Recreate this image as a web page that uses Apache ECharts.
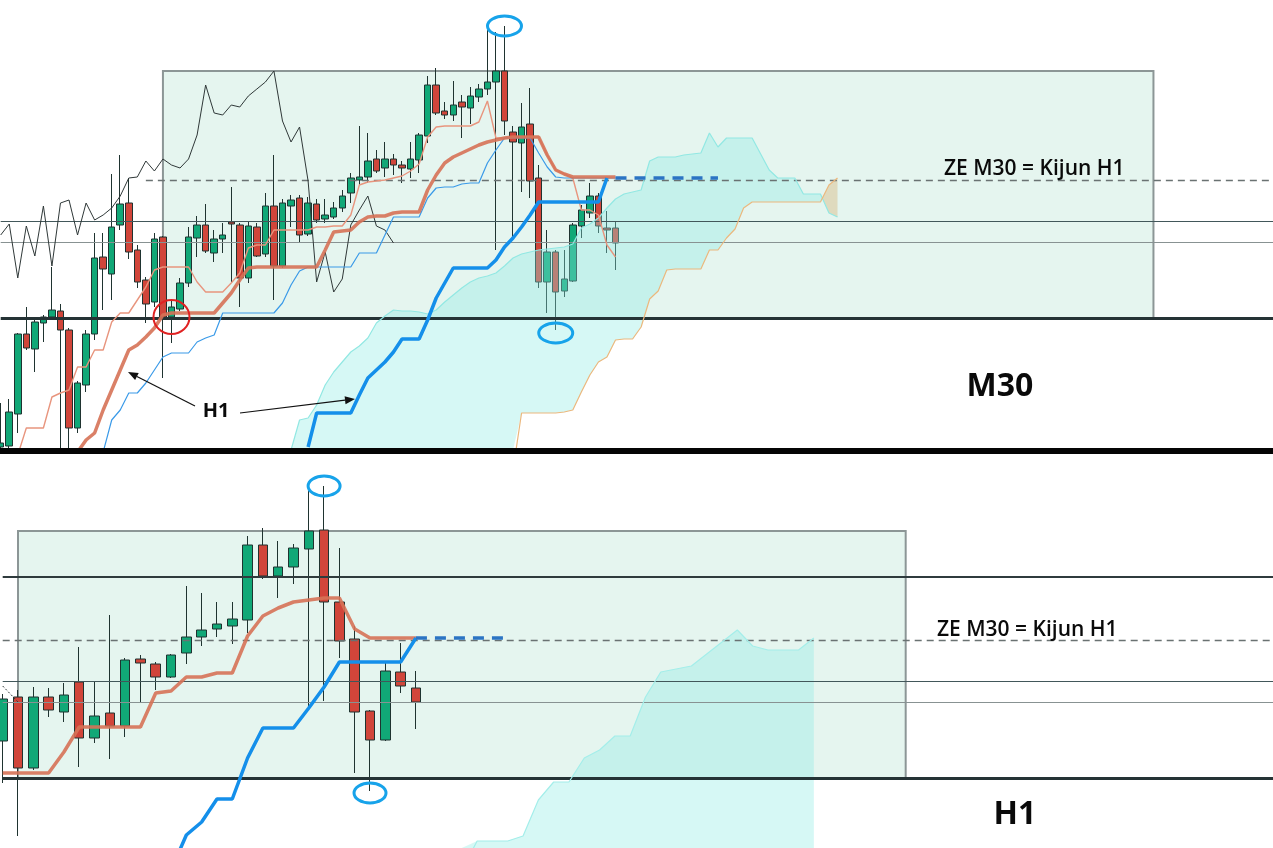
<!DOCTYPE html>
<html>
<head>
<meta charset="utf-8">
<title>ZE M30 = Kijun H1</title>
<script src="https://cdn.jsdelivr.net/npm/echarts@6/dist/echarts.min.js"></script>
<style>
  html, body { margin: 0; padding: 0; background: #fff; }
  #chart { width: 1273px; height: 848px; }
</style>
</head>
<body>
<div id="chart"></div>
<script>
// ---- M30 panel ----
// candles: [open, close, low, high]
const m30Candles = [
  [1.0753, 1.0757, 1.0752, 1.0797], [1.0754, 1.0788, 1.0752, 1.0801], [1.0786, 1.0866, 1.0767, 1.0867],
  [1.0866, 1.0852, 1.0850, 1.0893], [1.0851, 1.0878, 1.0828, 1.0880], [1.0877, 1.0883, 1.0858, 1.0885],
  [1.0883, 1.0890, 1.0882, 1.0933], [1.0889, 1.0870, 1.0752, 1.0896], [1.0870, 1.0772, 1.0752, 1.0872],
  [1.0772, 1.0817, 1.0767, 1.0819], [1.0815, 1.0866, 1.0808, 1.0870], [1.0866, 1.0942, 1.0860, 1.0967],
  [1.0943, 1.0931, 1.0890, 1.0967], [1.0926, 1.0973, 1.0900, 1.1026], [1.0975, 1.0996, 1.0970, 1.1045],
  [1.0997, 1.0948, 1.0941, 1.1022], [1.0950, 1.0918, 1.0912, 1.0955], [1.0920, 1.0896, 1.0877, 1.0923],
  [1.0898, 1.0961, 1.0893, 1.0967], [1.0963, 1.0883, 1.0822, 1.0964], [1.0883, 1.0893, 1.0857, 1.0900],
  [1.0891, 1.0917, 1.0889, 1.0922], [1.0917, 1.0963, 1.0913, 1.0973], [1.0962, 1.0975, 1.0943, 1.0984],
  [1.0975, 1.0949, 1.0947, 1.0996], [1.0947, 1.0961, 1.0938, 1.0970], [1.0961, 1.0965, 1.0947, 1.0977],
  [1.0978, 1.0976, 1.0918, 1.1013], [1.0975, 1.0922, 1.0893, 1.0977], [1.0922, 1.0974, 1.0917, 1.0978],
  [1.0973, 1.0944, 1.0943, 1.0977], [1.0946, 1.0994, 1.0943, 1.1007], [1.0994, 1.0934, 1.0900, 1.1045],
  [1.0934, 1.0997, 1.0932, 1.1001], [1.0994, 1.1000, 1.0973, 1.1005], [1.1002, 1.0965, 1.0957, 1.1005],
  [1.0966, 1.0997, 1.0964, 1.1003], [1.0996, 1.0980, 1.0977, 1.1001], [1.0981, 1.0985, 1.0977, 1.1001],
  [1.0983, 1.0992, 1.0981, 1.0998], [1.0992, 1.1004, 1.0988, 1.1010], [1.1007, 1.1022, 1.0997, 1.1027],
  [1.1020, 1.1023, 1.1015, 1.1074], [1.1023, 1.1039, 1.1017, 1.1067], [1.1041, 1.1029, 1.1027, 1.1050],
  [1.1032, 1.1041, 1.1023, 1.1058], [1.1041, 1.1035, 1.1025, 1.1046], [1.1035, 1.1032, 1.1017, 1.1039],
  [1.1031, 1.1041, 1.1022, 1.1058], [1.1040, 1.1065, 1.1027, 1.1067], [1.1064, 1.1115, 1.1057, 1.1124],
  [1.1115, 1.1087, 1.1085, 1.1132], [1.1089, 1.1085, 1.1081, 1.1098], [1.1085, 1.1095, 1.1079, 1.1119],
  [1.1098, 1.1093, 1.1062, 1.1105], [1.1092, 1.1104, 1.1076, 1.1113], [1.1103, 1.1111, 1.1098, 1.1116],
  [1.1111, 1.1118, 1.1105, 1.1170], [1.1118, 1.1129, 1.0950, 1.1168], [1.1129, 1.1079, 1.1065, 1.1174],
  [1.1068, 1.1058, 1.0960, 1.1074], [1.1057, 1.1073, 1.1008, 1.1097], [1.1076, 1.1019, 1.1002, 1.1112],
  [1.1022, 1.0918, 1.0912, 1.1035], [1.0918, 1.0948, 1.0887, 1.0970], [1.0948, 1.0908, 1.0870, 1.0950],
  [1.0909, 1.0921, 1.0903, 1.0950], [1.0919, 1.0975, 1.0918, 1.0977], [1.0974, 1.0990, 1.0962, 1.0995],
  [1.0987, 1.1004, 1.0982, 1.1017], [1.1004, 1.0974, 1.0967, 1.1007], [1.0972, 1.0970, 1.0947, 1.0989],
  [1.0972, 1.0957, 1.0930, 1.0978]
];

// thin salmon (tenkan M30), from index 2
const m30TenkanStart = 2;
const m30Tenkan = [
  1.0745, 1.0772, 1.0772, 1.0772, 1.0803, 1.0807, 1.0810, 1.0833, 1.0833, 1.0850,
  1.0850, 1.0878, 1.0887, 1.0887, 1.0900, 1.0913, 1.0930, 1.0933, 1.0933, 1.0933,
  1.0933, 1.0918, 1.0908, 1.0908, 1.0908, 1.0917, 1.0927, 1.0952, 1.0955, 1.0955,
  1.0970, 1.0970, 1.0970, 1.0970, 1.0970, 1.0973, 1.0973, 1.0974, 1.0974, 1.0985,
  1.1015, 1.1018, 1.1019, 1.1020, 1.1022, 1.1024, 1.1029, 1.1036, 1.1063, 1.1073,
  1.1074, 1.1074, 1.1074, 1.1074, 1.1078, 1.1099, 1.1062, 1.1062, 1.1063, 1.1063,
  1.1063, 1.1063, 1.1045, 1.1030, 1.1026, 1.1022, 1.0990, 1.0990, 1.0985, 1.0955,
  1.0943
];

// thin blue (kijun M30), from index 12
const m30KijunStart = 12;
const m30Kijun = [
  1.0748, 1.0780, 1.0790, 1.0807, 1.0807, 1.0817, 1.0830, 1.0843, 1.0847, 1.0847,
  1.0847, 1.0858, 1.0862, 1.0865, 1.0887, 1.0887, 1.0887, 1.0887, 1.0887, 1.0887,
  1.0887, 1.0897, 1.0915, 1.0929, 1.0933, 1.0933, 1.0933, 1.0933, 1.0933, 1.0933,
  1.0947, 1.0947, 1.0947, 1.0965, 1.0983, 1.0983, 1.0983, 1.0983, 1.1002, 1.1012,
  1.1013, 1.1013, 1.1016, 1.1017, 1.1017, 1.1037, 1.1050, 1.1062, 1.1062, 1.1062,
  1.1062, 1.1047, 1.1033, 1.1023, 1.1022, 1.1022, 1.1022, 1.1022, 1.1022, 1.1022,
  1.1022
];

// thick salmon (kijun H1 drawn on M30), from index 9
const m30H1KijunStart = 9;
const m30H1Kijun = [
  1.0748, 1.0760, 1.0767, 1.0790, 1.0810, 1.0830, 1.0850, 1.0855, 1.0863, 1.0872,
  1.0885, 1.0887, 1.0887, 1.0887, 1.0887, 1.0887, 1.0887, 1.0897, 1.0907, 1.0920,
  1.0932, 1.0933, 1.0933, 1.0933, 1.0933, 1.0933, 1.0933, 1.0933, 1.0933, 1.0950,
  1.0968, 1.0969, 1.0970, 1.0978, 1.0983, 1.0984, 1.0984, 1.0987, 1.0988, 1.0988,
  1.0988, 1.1010, 1.1025, 1.1037, 1.1043, 1.1047, 1.1051, 1.1055, 1.1058, 1.1060,
  1.1062, 1.1063, 1.1063, 1.1063, 1.1063, 1.1045, 1.1030, 1.1026, 1.1023, 1.1023,
  1.1023, 1.1023, 1.1023, 1.1023
];

// thick blue (H1 line drawn on M30), from index 36
const m30H1BlueStart = 36;
const m30H1Blue = [
  1.0753, 1.0787, 1.0787, 1.0787, 1.0787, 1.0787, 1.0805, 1.0822, 1.0830, 1.0838,
  1.0848, 1.0861, 1.0861, 1.0861, 1.0880, 1.0902, 1.0917, 1.0932, 1.0932, 1.0932,
  1.0932, 1.0932, 1.0940, 1.0953, 1.0962, 1.0973, 1.0985, 1.0998, 1.0998, 1.0998,
  1.0998, 1.0998, 1.0998, 1.0998, 1.0998, 1.1022
];

// cloud edges (M30)
const m30SpanAStart = 34;
const m30SpanA = [
  1.0750, 1.0780, 1.0782, 1.0795, 1.0815, 1.0828, 1.0838, 1.0848, 1.0854, 1.0862,
  1.0877, 1.0884, 1.0890, 1.0889, 1.0889, 1.0888, 1.0886, 1.0890, 1.0898, 1.0905,
  1.0912, 1.0918, 1.0922, 1.0924, 1.0927, 1.0934, 1.0942, 1.0946, 1.0948, 1.0950,
  1.0951, 1.0952, 1.0953, 1.0956, 1.0972, 1.0976, 1.0982, 1.0992, 1.1001, 1.1006,
  1.1008, 1.1010, 1.1039, 1.1043, 1.1043, 1.1043, 1.1045, 1.1046, 1.1047, 1.1067,
  1.1053, 1.1062, 1.1062, 1.1062, 1.1062, 1.1046, 1.1030, 1.1022, 1.1022, 1.1022,
  1.1006, 1.1006, 1.1006, 1.0987, 1.0983
];
const m30SpanBStart = 60;
const m30SpanB = [
  1.0730, 1.0787, 1.0787, 1.0787, 1.0787, 1.0787, 1.0788, 1.0790, 1.0808, 1.0825,
  1.0838, 1.0843, 1.0860, 1.0861, 1.0861, 1.0873, 1.0901, 1.0909, 1.0930, 1.0931,
  1.0931, 1.0931, 1.0931, 1.0950, 1.0950, 1.0962, 1.0971, 1.0992, 1.0998, 1.0998,
  1.0998, 1.0998, 1.0998, 1.0998, 1.0998, 1.0998, 1.0998, 1.1015, 1.1022
];

// ---- H1 panel ----
const h1Candles = [
  [1.0919, 1.0961, 1.0877, 1.0966], [1.0963, 1.0892, 1.0824, 1.0970], [1.0892, 1.0963, 1.0890, 1.0973],
  [1.0963, 1.0950, 1.0943, 1.0972], [1.0948, 1.0965, 1.0938, 1.0977], [1.0978, 1.0922, 1.0893, 1.1013],
  [1.0922, 1.0944, 1.0917, 1.0978], [1.0947, 1.0934, 1.0901, 1.1045], [1.0934, 1.1000, 1.0923, 1.1002],
  [1.1001, 1.0997, 1.0957, 1.1005], [1.0996, 1.0983, 1.0970, 1.0998], [1.0983, 1.1005, 1.0982, 1.1006],
  [1.1007, 1.1023, 1.0996, 1.1074], [1.1023, 1.1030, 1.1014, 1.1067], [1.1031, 1.1036, 1.1023, 1.1058],
  [1.1034, 1.1041, 1.1016, 1.1058], [1.1040, 1.1115, 1.1027, 1.1124], [1.1115, 1.1084, 1.1081, 1.1132],
  [1.1084, 1.1093, 1.1062, 1.1119], [1.1093, 1.1112, 1.1076, 1.1116], [1.1111, 1.1129, 1.0953, 1.1170],
  [1.1130, 1.1058, 1.0959, 1.1174], [1.1058, 1.1019, 1.1002, 1.1112], [1.1021, 1.0948, 1.0887, 1.1034],
  [1.0949, 1.0920, 1.0869, 1.0950], [1.0920, 1.0989, 1.0919, 1.0997], [1.0988, 1.0974, 1.0967, 1.1017],
  [1.0972, 1.0958, 1.0931, 1.0989]
];
const h1KijunStart = 0;
const h1Kijun = [
  1.0887, 1.0887, 1.0887, 1.0887, 1.0908, 1.0933, 1.0933, 1.0933, 1.0933, 1.0933,
  1.0967, 1.0969, 1.0983, 1.0983, 1.0987, 1.0987, 1.1024, 1.1044, 1.1052, 1.1058,
  1.1060, 1.1062, 1.1062, 1.1031, 1.1022, 1.1022, 1.1022, 1.1022
];
const h1BlueStart = 11;
const h1Blue = [
  1.0790, 1.0825, 1.0838, 1.0861, 1.0861, 1.0902, 1.0932, 1.0932, 1.0932, 1.0952,
  1.0973, 1.0998, 1.0998, 1.0998, 1.0998, 1.0998, 1.1022
];
const h1SpanAStart = 30;
const h1SpanA = [
  1.0790, 1.0819, 1.0819, 1.0819, 1.0824, 1.0860, 1.0878, 1.0878, 1.0902, 1.0910,
  1.0924, 1.0924, 1.0963, 1.0988, 1.0991, 1.0994, 1.1006, 1.1018, 1.1030, 1.1014,
  1.1010, 1.1010, 1.1010, 1.1022
];
const h1SpanBStart = 30;
const h1SpanB = []; // below the visible range

// ---- levels ----
const zeLevel = 1.1020;        // grey dashed line
const kijunFlat = 1.1022;      // blue dashed projection
const levelDark = 1.0979;
const levelGrey = 1.0958;
const supportLevel = 1.0882;
const h1TopLevel = 1.1083;
const boxTop = 1.1129;
const m30Box = [19, 135];
const h1Box = [1, 59];
const m30Proj = [72, 84];
const h1Proj = [27, 33];
const m30ZeFrom = 17;
const chikouShift = 26;

// axis ranges
const m30Range = [1.0750, 1.1200];
const h1Range = [1.0812, 1.1205];
const m30Count = 150;
const h1Count = 84;

const chart = echarts.init(document.getElementById('chart'));

function cats(n) {
  const out = [];
  for (let i = 0; i < n; i++) out.push(String(i));
  return out;
}
function padFrom(start, values) {
  const out = [];
  for (let i = 0; i < start; i++) out.push(null);
  return out.concat(values);
}
function flat(range, value) {
  const out = [];
  for (let i = 0; i <= range[1]; i++) out.push(i >= range[0] ? value : null);
  return out;
}

function line(grid, data, color, width, z, type) {
  return {
    type: 'line', xAxisIndex: grid, yAxisIndex: grid, data: data,
    symbol: 'none', showSymbol: false, silent: true, z: z,
    lineStyle: { color: color, width: width, type: type || 'solid' }
  };
}

function candles(grid, data, width) {
  return {
    type: 'candlestick', xAxisIndex: grid, yAxisIndex: grid, data: data,
    barWidth: width, silent: true, z: 3,
    itemStyle: {
      color: '#11a877', color0: '#d1453a',
      borderColor: '#1f3330', borderColor0: '#1f3330', borderWidth: 1
    }
  };
}

// kumo polygon, split where the two spans cross
function cloud(grid, aStart, spanA, bStart, spanB, floor) {
  return {
    type: 'custom', xAxisIndex: grid, yAxisIndex: grid, z: 4, silent: true, clip: true,
    data: [[aStart, floor]],
    renderItem: function (params, api) {
      const pa = [], pb = [];
      for (let k = 0; k < spanA.length; k++) {
        const i = aStart + k;
        const bi = i - bStart;
        const b = (bi >= 0 && bi < spanB.length) ? spanB[bi] : floor;
        pa.push(api.coord([i, Math.max(spanA[k], floor)]));
        pb.push(api.coord([i, Math.max(b, floor)]));
      }
      const runs = [];
      let cur = { up: pa[0][1] <= pb[0][1], a: [pa[0]], b: [pb[0]] };
      for (let k = 1; k < pa.length; k++) {
        const up = pa[k][1] <= pb[k][1];
        if (up !== cur.up) {
          const d0 = pb[k - 1][1] - pa[k - 1][1], d1 = pb[k][1] - pa[k][1];
          const t = d0 / (d0 - d1);
          const p = [pa[k - 1][0] + t * (pa[k][0] - pa[k - 1][0]),
                     pa[k - 1][1] + t * (pa[k][1] - pa[k - 1][1])];
          cur.a.push(p); cur.b.push(p);
          runs.push(cur);
          cur = { up: up, a: [p], b: [p] };
        }
        cur.a.push(pa[k]); cur.b.push(pb[k]);
      }
      runs.push(cur);
      return {
        type: 'group',
        children: runs.map(function (r) {
          return {
            type: 'polygon',
            shape: { points: r.a.concat(r.b.slice().reverse()) },
            style: { fill: r.up ? 'rgba(140,236,228,0.36)' : 'rgba(218,191,141,0.5)' }
          };
        })
      };
    }
  };
}

function boxSeries(grid, box) {
  return {
    type: 'line', xAxisIndex: grid, yAxisIndex: grid, data: [], z: 1, silent: true,
    markArea: {
      silent: true,
      itemStyle: { color: '#e5f5ef', borderColor: '#8c9696', borderWidth: 2 },
      data: [[{ coord: [box[0], boxTop] }, { coord: [box[1], supportLevel] }]]
    }
  };
}

// horizontal level from one category index to another
function hl(from, to, value, color, width, type) {
  return [
    { coord: [from, value], lineStyle: { color: color, width: width, type: type || 'solid' } },
    { coord: [to, value] }
  ];
}

function levelSeries(grid, items) {
  return {
    type: 'line', xAxisIndex: grid, yAxisIndex: grid, data: [], z: 2, silent: true,
    markLine: { silent: true, symbol: ['none', 'none'], precision: 6, label: { show: false }, data: items }
  };
}

// chikou = closes shifted back
const m30Chikou = m30Candles.slice(chikouShift).map(function (c) { return c[1]; });
const h1Chikou = h1Candles.slice(chikouShift).map(function (c) { return c[1]; });
const dashGrey = [7, 5];
const dashProj = [11, 8];
const m30End = m30Count - 1;
const h1End = h1Count - 1;

const option = {
  animation: false,
  grid: [
    { left: 0.7, right: 0, top: 0, height: 450 },
    { left: 2.7, right: 0, top: 455, height: 393 }
  ],
  xAxis: [
    { type: 'category', gridIndex: 0, data: cats(m30Count), boundaryGap: false, show: false },
    { type: 'category', gridIndex: 1, data: cats(h1Count), boundaryGap: false, show: false }
  ],
  yAxis: [
    { type: 'value', gridIndex: 0, min: m30Range[0], max: m30Range[1], show: false, splitLine: { show: false } },
    { type: 'value', gridIndex: 1, min: h1Range[0], max: h1Range[1], show: false, splitLine: { show: false } }
  ],
  series: [
    // M30
    boxSeries(0, m30Box),
    levelSeries(0, [
      hl(0, m30End, levelDark, '#42575a', 1.2),
      hl(0, m30End, levelGrey, '#889292', 1.2),
      hl(0, m30End, supportLevel, '#253335', 3),
      hl(m30ZeFrom, m30End, zeLevel, '#6a7272', 1.3, dashGrey)
    ]),
    candles(0, m30Candles, 7),
    cloud(0, m30SpanAStart, m30SpanA, m30SpanBStart, m30SpanB, m30Range[0]),
    line(0, padFrom(m30SpanAStart, m30SpanA), '#92e8e3', 1.2, 5),
    line(0, padFrom(m30SpanBStart, m30SpanB), '#ebb87e', 1.2, 5),
    line(0, m30Chikou, '#2f3838', 1, 5),
    line(0, padFrom(m30TenkanStart, m30Tenkan), '#e8957e', 1.4, 6),
    line(0, padFrom(m30KijunStart, m30Kijun), '#3a9ae8', 1.2, 6),
    line(0, padFrom(m30H1KijunStart, m30H1Kijun), 'rgba(214,114,86,0.9)', 3.5, 7),
    line(0, padFrom(m30H1BlueStart, m30H1Blue), '#148fea', 3.5, 7),
    line(0, flat(m30Proj, kijunFlat), '#2b74c4', 3.5, 7, dashProj),
    // H1
    boxSeries(1, h1Box),
    levelSeries(1, [
      hl(0, h1End, h1TopLevel, '#2f3b3d', 2),
      hl(0, h1End, levelDark, '#42575a', 1.2),
      hl(0, h1End, levelGrey, '#889292', 1.2),
      hl(0, h1End, supportLevel, '#253335', 3),
      hl(0, h1End, zeLevel, '#6a7272', 1.3, dashGrey)
    ]),
    candles(1, h1Candles, 10),
    cloud(1, h1SpanAStart, h1SpanA, h1SpanBStart, h1SpanB, h1Range[0]),
    line(1, padFrom(h1SpanAStart, h1SpanA), '#a4eeea', 1.2, 5),
    line(1, h1Chikou, '#2f3838', 1, 5, [2, 2]),
    line(1, padFrom(h1KijunStart, h1Kijun), 'rgba(214,114,86,0.9)', 3.5, 7),
    line(1, padFrom(h1BlueStart, h1Blue), '#148fea', 3.5, 7),
    line(1, flat(h1Proj, kijunFlat), '#2b74c4', 3.5, 7, dashProj)
  ]
};
chart.setOption(option);

// ---- annotations, placed from the data ----
function px(grid, i, v) { return chart.convertToPixel({ gridIndex: grid }, [i, v]); }
function ellipse(p, dy, rx, ry, color, w) {
  return { type: 'ellipse', z: 100, silent: true,
    shape: { cx: p[0], cy: p[1] + dy, rx: rx, ry: ry },
    style: { fill: 'none', stroke: color, lineWidth: w } };
}
function arrow(x1, y1, x2, y2) {
  const a = Math.atan2(y2 - y1, x2 - x1), L = 10, W = 4;
  const bx = x2 - L * Math.cos(a), by = y2 - L * Math.sin(a);
  const ox = -Math.sin(a) * W, oy = Math.cos(a) * W;
  return [
    { type: 'line', z: 100, silent: true, shape: { x1: x1, y1: y1, x2: bx, y2: by }, style: { stroke: '#111', lineWidth: 1.2 } },
    { type: 'polygon', z: 100, silent: true, shape: { points: [[x2, y2], [bx + ox, by + oy], [bx - ox, by - oy]] }, style: { fill: '#111' } }
  ];
}
function label(x, y, text, size, weight, align) {
  return { type: 'text', z: 100, silent: true, x: x, y: y,
    style: { text: text, fontSize: size, fontWeight: weight, fontFamily: '"Open Sans", "Noto Sans", sans-serif',
      fill: '#0a0a0a', align: align || 'left', verticalAlign: 'middle' } };
}

const blue = '#17a3ea';
const zeTop = px(0, 0, zeLevel)[1];
const zeBottom = px(1, 0, zeLevel)[1];
const sepY = px(0, 0, m30Range[0])[1];

const graphics = [
  { type: 'rect', z: 90, silent: true, shape: { x: 0, y: sepY - 2, width: 1273, height: 6 }, style: { fill: '#050505' } },
  ellipse(px(0, 59, m30Candles[59][3]), 0, 17, 10, blue, 3),
  ellipse(px(0, 65, m30Candles[65][2]), 3, 17, 10, blue, 3),
  ellipse(px(1, 21, h1Candles[21][3]), 0, 16, 10, blue, 3),
  ellipse(px(1, 24, h1Candles[24][2]), 2, 16, 10, blue, 3),
  ellipse(px(0, 20, supportLevel), -1, 18, 17, '#e02222', 2),
  label(944, zeTop - 11, 'ZE M30 = Kijun H1', 21, 600),
  label(937, zeBottom - 10, 'ZE M30 = Kijun H1', 21, 600),
  label(1000, 387, 'M30', 32, 'bold', 'center'),
  label(1015, 815, 'H1', 32, 'bold', 'center'),
  label(216, 411, 'H1', 20, 'bold', 'center')
].concat(arrow(195, 406, 128, 372), arrow(240, 413, 355, 399));

chart.setOption({ graphic: graphics });
</script>
</body>
</html>
